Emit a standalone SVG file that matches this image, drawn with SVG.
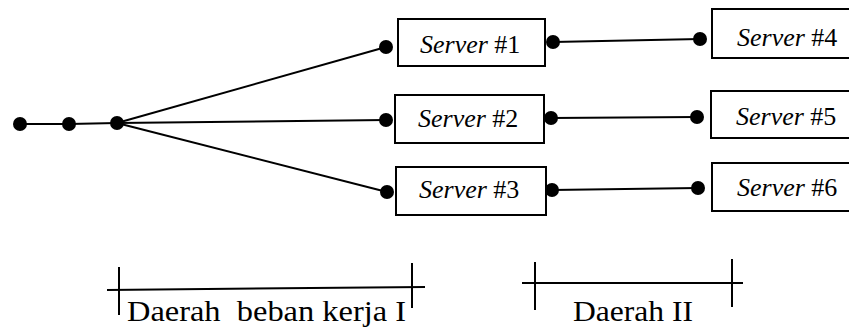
<svg xmlns="http://www.w3.org/2000/svg" width="849" height="327" viewBox="0 0 849 327">
  <style>
    .box { fill: #fff; stroke: #000; stroke-width: 2; }
    .wire { stroke: #000; stroke-width: 2; fill: none; }
    .dot { fill: #000; }
    text { font-family: 'Liberation Serif', 'Times New Roman', Tinos, 'DejaVu Serif', serif; fill: #000; }
    .lbl { font-size: 26px; font-style: italic; }
    .num { font-style: normal; }
    .zone { font-size: 30px; }
  </style>
  <rect width="849" height="327" fill="#fff"/>

  <!-- connectors -->
  <g id="connectors">
    <polyline class="wire" points="20,124 69,124 117,123"/>
    <line class="wire" x1="117" y1="123" x2="386" y2="47"/>
    <line class="wire" x1="117" y1="123" x2="386" y2="120"/>
    <line class="wire" x1="117" y1="123" x2="387" y2="192"/>
    <line class="wire" x1="553" y1="42" x2="700" y2="39"/>
    <line class="wire" x1="551" y1="118" x2="697" y2="117"/>
    <line class="wire" x1="552" y1="190" x2="698" y2="188"/>
    <circle class="dot" cx="20" cy="124" r="7"/>
    <circle class="dot" cx="69" cy="124" r="7"/>
    <circle class="dot" cx="117" cy="123" r="7"/>
  </g>

  <!-- first tier servers -->
  <g id="server1">
    <rect class="box" x="398" y="19" width="147" height="47"/>
    <circle class="dot" cx="386" cy="47" r="7"/>
    <circle class="dot" cx="553" cy="42" r="7"/>
    <text class="lbl" x="420" y="53">Server <tspan class="num">#1</tspan></text>
  </g>
  <g id="server2">
    <rect class="box" x="395" y="95" width="149" height="48"/>
    <circle class="dot" cx="386" cy="120" r="7"/>
    <circle class="dot" cx="551" cy="118" r="7"/>
    <text class="lbl" x="418" y="127">Server <tspan class="num">#2</tspan></text>
  </g>
  <g id="server3">
    <rect class="box" x="396" y="167" width="150" height="48"/>
    <circle class="dot" cx="387" cy="192" r="7"/>
    <circle class="dot" cx="552" cy="190" r="7"/>
    <text class="lbl" x="419" y="198">Server <tspan class="num">#3</tspan></text>
  </g>

  <!-- second tier servers -->
  <g id="server4">
    <rect class="box" x="712" y="9" width="142" height="49"/>
    <circle class="dot" cx="700" cy="39" r="7"/>
    <text class="lbl" x="737" y="46">Server <tspan class="num">#4</tspan></text>
  </g>
  <g id="server5">
    <rect class="box" x="711" y="91" width="143" height="47"/>
    <circle class="dot" cx="697" cy="117" r="7"/>
    <text class="lbl" x="736" y="125">Server <tspan class="num">#5</tspan></text>
  </g>
  <g id="server6">
    <rect class="box" x="712" y="163" width="142" height="48"/>
    <circle class="dot" cx="698" cy="188" r="7"/>
    <text class="lbl" x="737" y="196">Server <tspan class="num">#6</tspan></text>
  </g>

  <!-- region brackets -->
  <g id="zone1">
    <line class="wire" x1="107" y1="290" x2="425" y2="287"/>
    <line class="wire" x1="119" y1="267" x2="119" y2="315"/>
    <line class="wire" x1="412" y1="263" x2="412" y2="308"/>
    <text class="zone" x="127" y="321" xml:space="preserve" textLength="279" lengthAdjust="spacingAndGlyphs">Daerah  beban kerja I</text>
  </g>
  <g id="zone2">
    <line class="wire" x1="522" y1="283" x2="743" y2="283"/>
    <line class="wire" x1="535" y1="262" x2="535" y2="310"/>
    <line class="wire" x1="732" y1="259" x2="732" y2="307"/>
    <text class="zone" x="573" y="321" textLength="120" lengthAdjust="spacingAndGlyphs">Daerah II</text>
  </g>
</svg>
